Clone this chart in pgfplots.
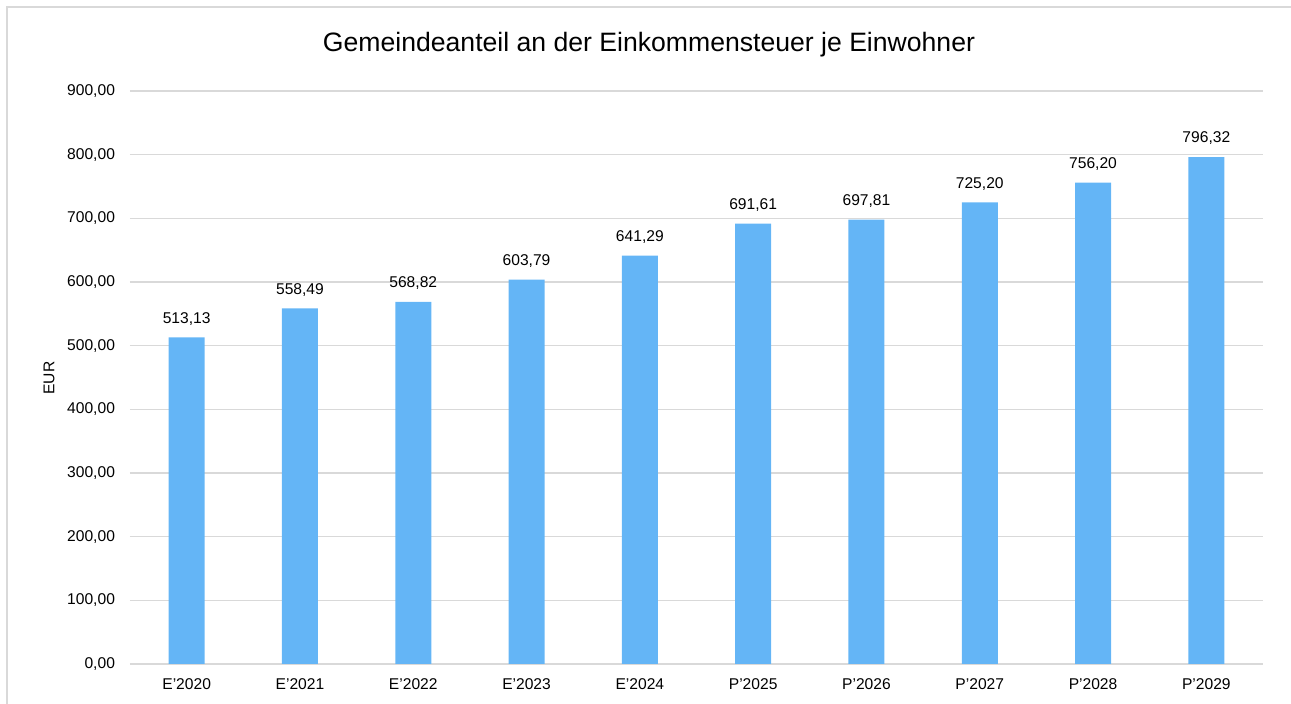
\documentclass[border=0pt]{standalone}
\usepackage{fontspec}
\setmainfont{Liberation Sans}
\usepackage{pgfplots}
\pgfplotsset{compat=1.18}
\definecolor{barblue}{HTML}{64B5F6}
\definecolor{gridgray}{HTML}{D9D9D9}
\begin{document}
\begin{tikzpicture}
    % page size: 1291x704 px at 0.5pt per px
    \path[use as bounding box] (0,0) rectangle (645.5pt,352pt);
    \draw[gridgray, line width=1pt] (3.5pt,-2pt) -- (3.5pt,348.5pt) -- (650pt,348.5pt);
    \node[font=\fontsize{13.3}{16}\selectfont] at (324.5pt,329.5pt) {Gemeindeanteil an der Einkommensteuer je Einwohner};
    \node[font=\fontsize{7.8}{9}\selectfont, rotate=90] at (24.5pt,163pt) {EUR};
    \begin{axis}[
            at={(65pt,20pt)},
            anchor=south west,
            scale only axis,
            width=566.5pt,
            height=286.5pt,
            ybar,
            bar width=18pt,
            xmin=-0.5, xmax=9.5,
            ymin=0, ymax=900,
            ytick={0,100,...,900},
            xtick=data,
            xticklabels={E'2020,E'2021,E'2022,E'2023,E'2024,P'2025,P'2026,P'2027,P'2028,P'2029},
            axis line style={draw=none},
            major tick length=0pt,
            ymajorgrids,
            grid style={gridgray, line width=0.75pt},
            ticklabel style={font=\fontsize{7.8}{9}\selectfont},
            yticklabel style={xshift=-4pt},
            xticklabel style={yshift=-4pt},
            /pgf/number format/.cd, assume math mode=true, fixed, fixed zerofill, precision=2, use comma, 1000 sep={},
            /pgfplots/.cd,
            nodes near coords,
            every node near coord/.append style={font=\fontsize{7.8}{9}\selectfont, yshift=2.5pt, black},
        ]
        \addplot[fill=barblue, draw=none] coordinates {
                (0,513.13) (1,558.49) (2,568.82) (3,603.79) (4,641.29)
                (5,691.61) (6,697.81) (7,725.20) (8,756.20) (9,796.32)
            };
    \end{axis}
\end{tikzpicture}
\end{document}
